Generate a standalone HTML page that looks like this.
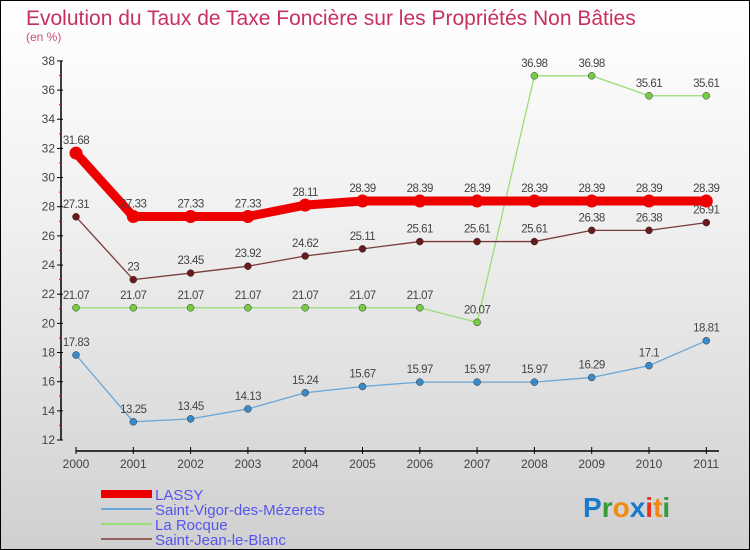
<!DOCTYPE html>
<html><head><meta charset="utf-8"><style>
body{margin:0}
#c{width:748px;height:548px;border:1px solid #000;background:linear-gradient(#fff,#f0f0f0 40%,#d0d0d0);position:relative;overflow:hidden;font-family:"Liberation Sans",sans-serif}
</style></head><body>
<div id="c">
<svg width="748" height="548" id="svg" style="position:absolute;left:0;top:0">
<text x="25" y="24" font-size="21" fill="#c8305e">Evolution du Taux de Taxe Foncière sur les Propriétés Non Bâties</text>
<text x="25" y="40" font-size="12" fill="#c8507a">(en %)</text>
<g id="axes"></g><g id="series"></g><g id="legend"></g>
<g font-size="28" font-family="'Liberation Sans',sans-serif" font-weight="bold">
<text x="582" y="516"><tspan fill="#1a7acc">P</tspan><tspan fill="#3a9a3a">r</tspan><tspan fill="#f08a10">o</tspan><tspan fill="#1a7acc">x</tspan><tspan fill="#e83020">i</tspan><tspan fill="#f08a10">t</tspan><tspan fill="#3a9a3a">i</tspan></text></g>
</svg></div>
<script>
const years=["2000","2001","2002","2003","2004","2005","2006","2007","2008","2009","2010","2011"];
const lassy=[31.68,27.33,27.33,27.33,28.11,28.39,28.39,28.39,28.39,28.39,28.39,28.39];
const vigor=[17.83,13.25,13.45,14.13,15.24,15.67,15.97,15.97,15.97,16.29,17.1,18.81];
const rocque=[21.07,21.07,21.07,21.07,21.07,21.07,21.07,20.07,36.98,36.98,35.61,35.61];
const jean=[27.31,23,23.45,23.92,24.62,25.11,25.61,25.61,25.61,26.38,26.38,26.91];
const yTicks=[12,14,16,18,20,22,24,26,28,30,32,34,36,38];
const NS="http://www.w3.org/2000/svg";
const X=i=>75+i*57.3, Y=v=>439-(v-12)*14.58;
function mk(t,a,p){const e=document.createElementNS(NS,t);for(const k in a)e.setAttribute(k,a[k]);p.appendChild(e);return e;}
const ax=document.getElementById('axes');
let l=mk('line',{x1:60,y1:Y(38),x2:60,y2:Y(12),stroke:'#000','stroke-width':1.5},ax);

yTicks.forEach(v=>{mk('line',{x1:56,y1:Y(v),x2:62,y2:Y(v),stroke:'#000'},ax);
 if(v<38)mk('line',{x1:58,y1:Y(v+1),x2:61,y2:Y(v+1),stroke:'#e00'},ax);
 const t=mk('text',{x:54,y:Y(v)+4,'font-size':12,fill:'#444','text-anchor':'end'},ax);t.textContent=v;
 });
l=mk('line',{x1:75,y1:450,x2:718,y2:450,stroke:'#000','stroke-width':1.5},ax);

years.forEach((y,i)=>{mk('line',{x1:X(i),y1:446,x2:X(i),y2:453,stroke:'#000'},ax);
 const t=mk('text',{x:X(i),y:467,'font-size':12,fill:'#444','text-anchor':'middle'},ax);t.textContent=y;
 });
const S=document.getElementById('series');
function draw(name,vals,col,w,r,dot,lab){
 const g=mk('g',{},S);
 const p=mk('polyline',{points:vals.map((v,i)=>X(i)+','+Y(v)).join(' '),fill:'none',stroke:col,'stroke-width':w,'stroke-linejoin':'round'},g);
 
 vals.forEach((v,i)=>{const c=mk('circle',{cx:X(i),cy:Y(v),r:r,fill:dot,stroke:lab?'#333':'none','stroke-width':0.5},g);
  
  const t=mk('text',{x:X(i),y:Y(v)-9,'font-size':11.5,fill:'#444','text-anchor':'middle','letter-spacing':'-0.5'},g);t.textContent=v;
  });
}
draw('saint-vigor',vigor,'#6aa6d6',1.3,3.5,'#3a8ac8',1);
draw('la-rocque',rocque,'#99dd77',1.3,3.5,'#77cc44',1);
draw('saint-jean',jean,'#7a3a3a',1.3,3.5,'#6a1a1a',1);
draw('lassy',lassy,'#ee0000',9,6.5,'#ee0000',0);
const L=document.getElementById('legend');
[["LASSY","#ee0000",8],["Saint-Vigor-des-Mézerets","#6aa6d6",2],["La Rocque","#99dd77",2],["Saint-Jean-le-Blanc","#956060",2]].forEach((d,i)=>{
 const y=493+i*15;
 const g=mk('g',{},L);
 mk('line',{x1:100,y1:y,x2:151,y2:y,stroke:d[1],'stroke-width':d[2]},g);
 const t=mk('text',{x:154,y:y+6,'font-size':15,fill:'#5555ee'},g);t.textContent=d[0];});
</script>
</body></html>
